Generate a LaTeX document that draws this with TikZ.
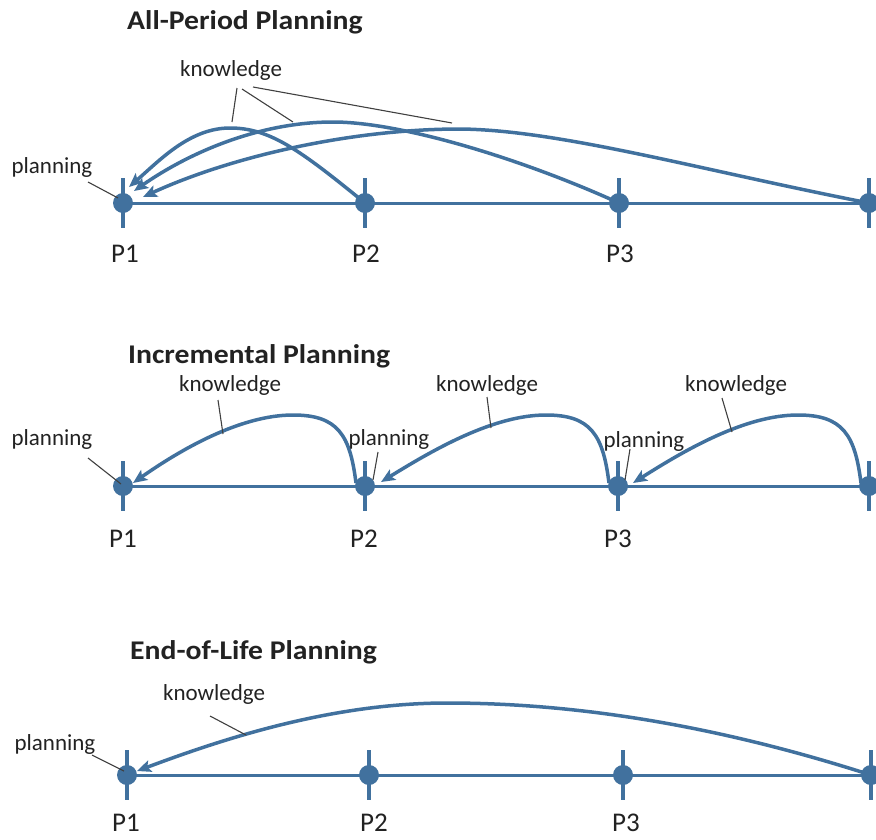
\documentclass[tikz,border=0pt]{standalone}
\usepackage{fontspec}
\setmainfont{Carlito}
\newfontfamily\titlefont[FakeStretch=1.1]{Carlito Bold}
\usetikzlibrary{arrows.meta}
\definecolor{lineblue}{RGB}{65,113,158}
\definecolor{txtgray}{RGB}{34,34,34}
\definecolor{leadgray}{RGB}{64,64,64}
\begin{document}
\begin{tikzpicture}[x=1pt,y=-1pt,
  every node/.style={text=txtgray},
  dot/.style={circle,fill=lineblue,inner sep=0pt,minimum size=20pt},
  axisline/.style={draw=lineblue,line width=3pt},
  tickline/.style={draw=lineblue,line width=3.5pt},
  knowarc/.style={draw=lineblue,line width=3.5pt,-{Stealth[length=14pt,width=12pt,inset=3pt]}},
  leader/.style={draw=leadgray,line width=1.1pt},
  ttl/.style={font=\titlefont\fontsize{27}{30}\selectfont,anchor=base west,inner sep=0pt},
  plab/.style={font=\fontsize{27}{30}\selectfont,anchor=base,inner sep=0pt},
  lbltext/.style={font=\fontsize{23}{26}\selectfont,anchor=base,inner sep=0pt},
]
\useasboundingbox (0,0) rectangle (876,839);

% ---------------- All-Period Planning ----------------
\node[ttl] (title1) at (127,29) {All-Period Planning};
\node[dot] (a1) at (123,203) {};
\node[dot] (a2) at (365,203) {};
\node[dot] (a3) at (619,203) {};
\node[dot] (a4) at (869,203) {};
\draw[axisline] (a1.center) -- (a4.center);
\foreach \n in {a1,a2,a3,a4}
  \draw[tickline] ([yshift=25pt]\n.center) -- ([yshift=-25pt]\n.center);
\node[plab] (a1l) at (125,262) {P1};
\node[plab] (a2l) at (366,262) {P2};
\node[plab] (a3l) at (620,262) {P3};

\coordinate (tipA1) at (129,187);
\coordinate (tipA2) at (134,191);
\coordinate (tipA3) at (143,197);
\draw[knowarc] (a2.center) .. controls (300,150) and (270,128) .. (230,128)
   .. controls (190,128) and (160,160) .. (tipA1);
\draw[knowarc] (a3.center) .. controls (520,158) and (400,122) .. (333,122)
   .. controls (260,122) and (190,152) .. (tipA2);
\draw[knowarc] (a4.center) .. controls (700,170) and (560,130) .. (460,129)
   .. controls (350,129) and (230,157) .. (tipA3);

\node[lbltext] (plan1) at (52,173) {planning};
\coordinate (plan1a) at (88,182);
\coordinate (plan1b) at (118,198);
\draw[leader] (plan1a) -- (plan1b);

\node[lbltext] (know1) at (231,76) {knowledge};
\coordinate (k1a) at (237,88);  \coordinate (k1b) at (232,122);
\coordinate (k2a) at (242,89);  \coordinate (k2b) at (293,122);
\coordinate (k3a) at (253,87);  \coordinate (k3b) at (452,123);
\draw[leader] (k1a) -- (k1b);
\draw[leader] (k2a) -- (k2b);
\draw[leader] (k3a) -- (k3b);

% ---------------- Incremental Planning ----------------
\node[ttl] (title2) at (128,363) {Incremental Planning};
\node[dot] (b1) at (123,486) {};
\node[dot] (b2) at (365,486) {};
\node[dot] (b3) at (618,486) {};
\node[dot] (b4) at (869,486) {};
\draw[axisline] (b1.center) -- (b4.center);
\foreach \n in {b1,b2,b3,b4}
  \draw[tickline] ([yshift=25pt]\n.center) -- ([yshift=-25pt]\n.center);
\node[plab] (b1l) at (123,547) {P1};
\node[plab] (b2l) at (364,547) {P2};
\node[plab] (b3l) at (618,547) {P3};

\coordinate (m1s) at (356,483); \coordinate (m1t) at (133,483);
\coordinate (m2s) at (609,483); \coordinate (m2t) at (381,482);
\coordinate (m3s) at (861,483); \coordinate (m3t) at (633,483);
\draw[knowarc] (m1s) .. controls (350,435) and (338,415) .. (293,415)
   .. controls (240,415) and (180,450) .. (m1t);
\draw[knowarc] (m2s) .. controls (603,435) and (591,415) .. (546,415)
   .. controls (493,415) and (433,450) .. (m2t);
\draw[knowarc] (m3s) .. controls (855,435) and (843,415) .. (798,415)
   .. controls (745,415) and (685,450) .. (m3t);

\node[lbltext] (know2) at (230,391) {knowledge};
\node[lbltext] (know3) at (487,391) {knowledge};
\node[lbltext] (know4) at (736,391) {knowledge};
\coordinate (k4a) at (218,400); \coordinate (k4b) at (223,434);
\coordinate (k5a) at (487,397); \coordinate (k5b) at (491,428);
\coordinate (k6a) at (722,398); \coordinate (k6b) at (732,432);
\draw[leader] (k4a) -- (k4b);
\draw[leader] (k5a) -- (k5b);
\draw[leader] (k6a) -- (k6b);

\node[lbltext] (plan2) at (52,445) {planning};
\node[lbltext] (plan3) at (389,445) {planning};
\node[lbltext] (plan4) at (644,447) {planning};
\coordinate (p2a) at (88,458);  \coordinate (p2b) at (121,484);
\coordinate (p3a) at (378,452); \coordinate (p3b) at (373,480);
\coordinate (p4a) at (630,449); \coordinate (p4b) at (625,480);
\draw[leader] (p2a) -- (p2b);
\draw[leader] (p3a) -- (p3b);
\draw[leader] (p4a) -- (p4b);

% ---------------- End-of-Life Planning ----------------
\node[ttl] (title3) at (130,659) {End-of-Life Planning};
\node[dot] (c1) at (127,775) {};
\node[dot] (c2) at (369,775) {};
\node[dot] (c3) at (623,775) {};
\node[dot] (c4) at (871,775) {};
\draw[axisline] (c1.center) -- (c4.center);
\foreach \n in {c1,c2,c3,c4}
  \draw[tickline] ([yshift=25pt]\n.center) -- ([yshift=-25pt]\n.center);
\node[plab] (c1l) at (126,831) {P1};
\node[plab] (c2l) at (374,831) {P2};
\node[plab] (c3l) at (626,831) {P3};

\coordinate (tipC) at (137,771);
\draw[knowarc] (c4.center) .. controls (700,720) and (560,703) .. (447,703)
   .. controls (330,703) and (220,740) .. (tipC);

\node[lbltext] (know5) at (214,700) {knowledge};
\coordinate (k7a) at (210,716); \coordinate (k7b) at (246,735);
\draw[leader] (k7a) -- (k7b);

\node[lbltext] (plan5) at (55,750) {planning};
\coordinate (p5a) at (92,755); \coordinate (p5b) at (124,771);
\draw[leader] (p5a) -- (p5b);
\end{tikzpicture}
\end{document}
